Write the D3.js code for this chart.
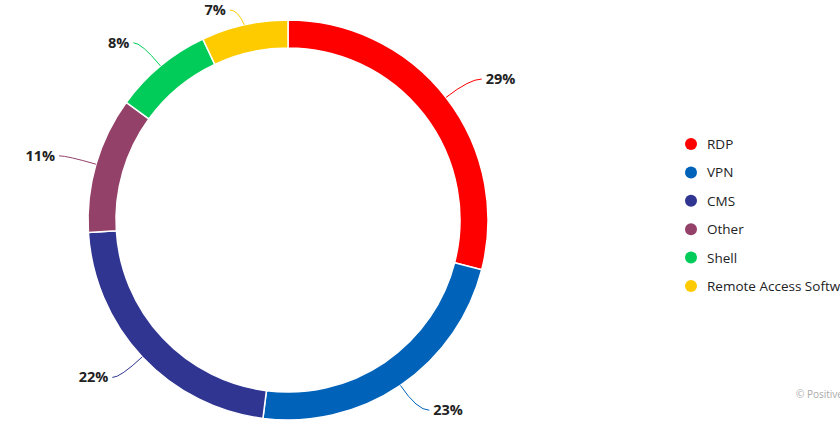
<!DOCTYPE html>
<html><head><meta charset="utf-8">
<script src="https://cdn.jsdelivr.net/npm/d3@7"></script>
<style>body{margin:0;background:#fff;overflow:hidden}text{font-family:"Open Sans",sans-serif}</style>
</head><body><svg width="840" height="440"></svg>
<script>
var categories = ["RDP","VPN","CMS","Other","Shell","Remote Access Software"];
var values = [29,23,22,11,8,7];
var colors = ["#fe0000","#0062b9","#303592","#94416a","#01cc59","#fecb00"];

var svg = d3.select('svg');
var cx = 288, cy = 220, rOut = 200, rIn = 172;

var pie = d3.pie().sort(null).value(function(d){ return d.v });
var arcs = pie(values.map(function(v,i){ return {v:v, i:i} }));
var arc = d3.arc().innerRadius(rIn).outerRadius(rOut);

var g = svg.append('g').attr('transform','translate('+cx+','+cy+')');

g.selectAll('path.slice').data(arcs).enter().append('path')
  .attr('class','slice')
  .attr('d', arc)
  .attr('fill', function(d){ return colors[d.data.i] })
  .attr('stroke','#fff').attr('stroke-width',1.5);

// connectors and labels
var pt = function(a, r){ return [r*Math.sin(a), -r*Math.cos(a)] };
arcs.forEach(function(d){
  var a = (d.startAngle + d.endAngle)/2;
  var p0 = pt(a, rOut), p1 = pt(a, rOut + 30);
  p1[1] = Math.max(p1[1], -cy + 10);
  var right = Math.sin(a) >= 0;
  var p2 = [p1[0] + (right ? 12 : -8), p1[1]];
  var col = colors[d.data.i];
  g.append('path')
    .attr('d', 'M'+p0+'Q'+p1+' '+p2)
    .attr('fill','none').attr('stroke', col).attr('stroke-width',1);
  g.append('text')
    .attr('x', p2[0] + (right ? 4 : -4)).attr('y', p2[1]+5)
    .attr('text-anchor', right ? 'start' : 'end')
    .attr('font-size', 14.5).attr('font-weight','bold').attr('fill','#222')
    .text(d.data.v + '%');
});

// legend
var leg = svg.selectAll('g.leg').data(categories).enter().append('g')
  .attr('class','leg')
  .attr('transform', function(d,i){ return 'translate(691,'+(144 + i*28.4)+')' });
leg.append('circle').attr('r',6).attr('fill', function(d,i){ return colors[i] });
leg.append('text').attr('x',16).attr('y',5).attr('font-size',13.5).attr('fill','#222')
  .text(function(d){ return d });

svg.append('text').attr('x',796).attr('y',398).attr('font-size',10).attr('fill','#aaa')
  .text('© Positive Technologies');
</script></body></html>
